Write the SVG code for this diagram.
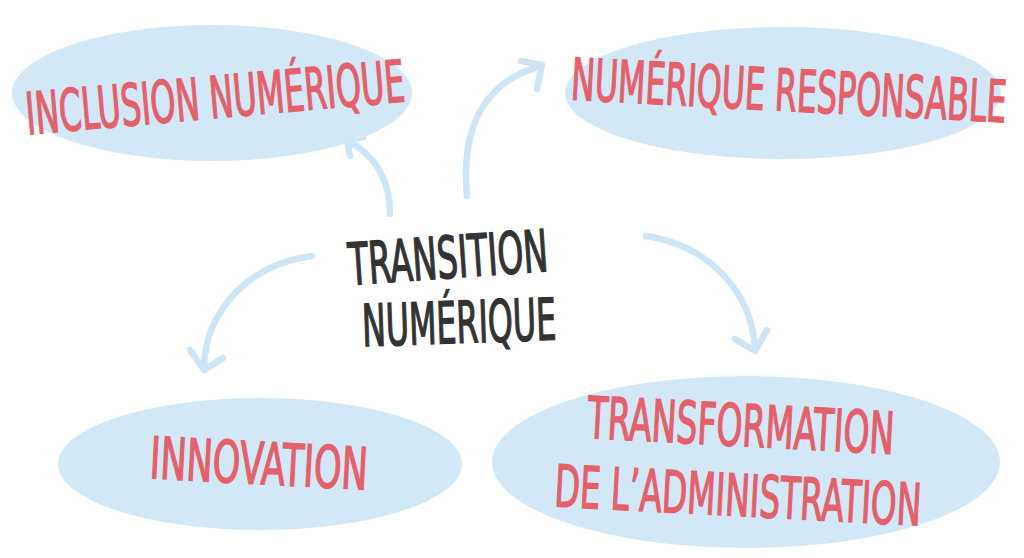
<svg xmlns="http://www.w3.org/2000/svg" width="1024" height="558" viewBox="0 0 1024 558">
  <defs>
    <style>
      .bubble { fill: #d3e8f6; }
      .label { fill: #e4606a; stroke: #e4606a; stroke-width: 1.4; font-family: "Liberation Sans Narrow", "DejaVu Sans Condensed", "Liberation Sans", sans-serif; font-size: 58px; text-anchor: middle; }
      .core { fill: #333333; stroke: #333333; stroke-width: 1.4; font-family: "Liberation Sans Narrow", "DejaVu Sans Condensed", "Liberation Sans", sans-serif; font-size: 58px; text-anchor: middle; }
      .flow { fill: none; stroke: #cde5f5; stroke-width: 6.5; stroke-linecap: round; stroke-linejoin: round; }
    </style>
  </defs>
  <rect width="1024" height="558" fill="#ffffff"/>

  <!-- connectors: curved hand-drawn arrows from the centre outwards -->
  <g id="connectors">
    <path class="flow" d="M 390 214 C 390 180 375 155 348 141"/>
    <path class="flow" d="M 350 156 L 347 140 L 363 137"/>
    <path class="flow" d="M 467 196 C 460 120 490 80 541 66"/>
    <path class="flow" d="M 521 61 L 542 65 L 537 89"/>
    <path class="flow" d="M 312 256 C 250 264 205 310 204 368"/>
    <path class="flow" d="M 190 350 L 204 370 L 223 358"/>
    <path class="flow" d="M 646 236 C 710 246 752 292 755 349"/>
    <path class="flow" d="M 735 339 L 755 351 L 767 330"/>
  </g>

  <g id="inclusion">
    <ellipse class="bubble" cx="212" cy="93" rx="200" ry="68"/>
    <text class="label" x="215" y="118" textLength="380" lengthAdjust="spacingAndGlyphs" transform="rotate(-5 215 97)">INCLUSION NUMÉRIQUE</text>
  </g>

  <g id="responsable">
    <ellipse class="bubble" cx="783" cy="93" rx="218" ry="66"/>
    <text class="label" x="789" y="111" textLength="436" lengthAdjust="spacingAndGlyphs" transform="rotate(3 789 90)">NUMÉRIQUE RESPONSABLE</text>
  </g>

  <g id="innovation">
    <ellipse class="bubble" cx="260" cy="464" rx="202" ry="66"/>
    <text class="label" x="259" y="484" textLength="218" lengthAdjust="spacingAndGlyphs" transform="rotate(3 259 463)">INNOVATION</text>
  </g>

  <g id="transformation">
    <ellipse class="bubble" cx="746" cy="462" rx="254" ry="86"/>
    <text class="label" x="741" y="446" textLength="307" lengthAdjust="spacingAndGlyphs" transform="rotate(3 741 425)">TRANSFORMATION</text>
    <text class="label" x="738" y="516" textLength="367" lengthAdjust="spacingAndGlyphs" transform="rotate(3 738 495)">DE L’ADMINISTRATION</text>
  </g>

  <g id="transition">
    <text class="core" x="448" y="278" textLength="200" lengthAdjust="spacingAndGlyphs" transform="rotate(-4 448 257)">TRANSITION</text>
    <text class="core" x="459" y="343" textLength="194" lengthAdjust="spacingAndGlyphs" transform="rotate(-2 459 322)">NUMÉRIQUE</text>
  </g>
</svg>
